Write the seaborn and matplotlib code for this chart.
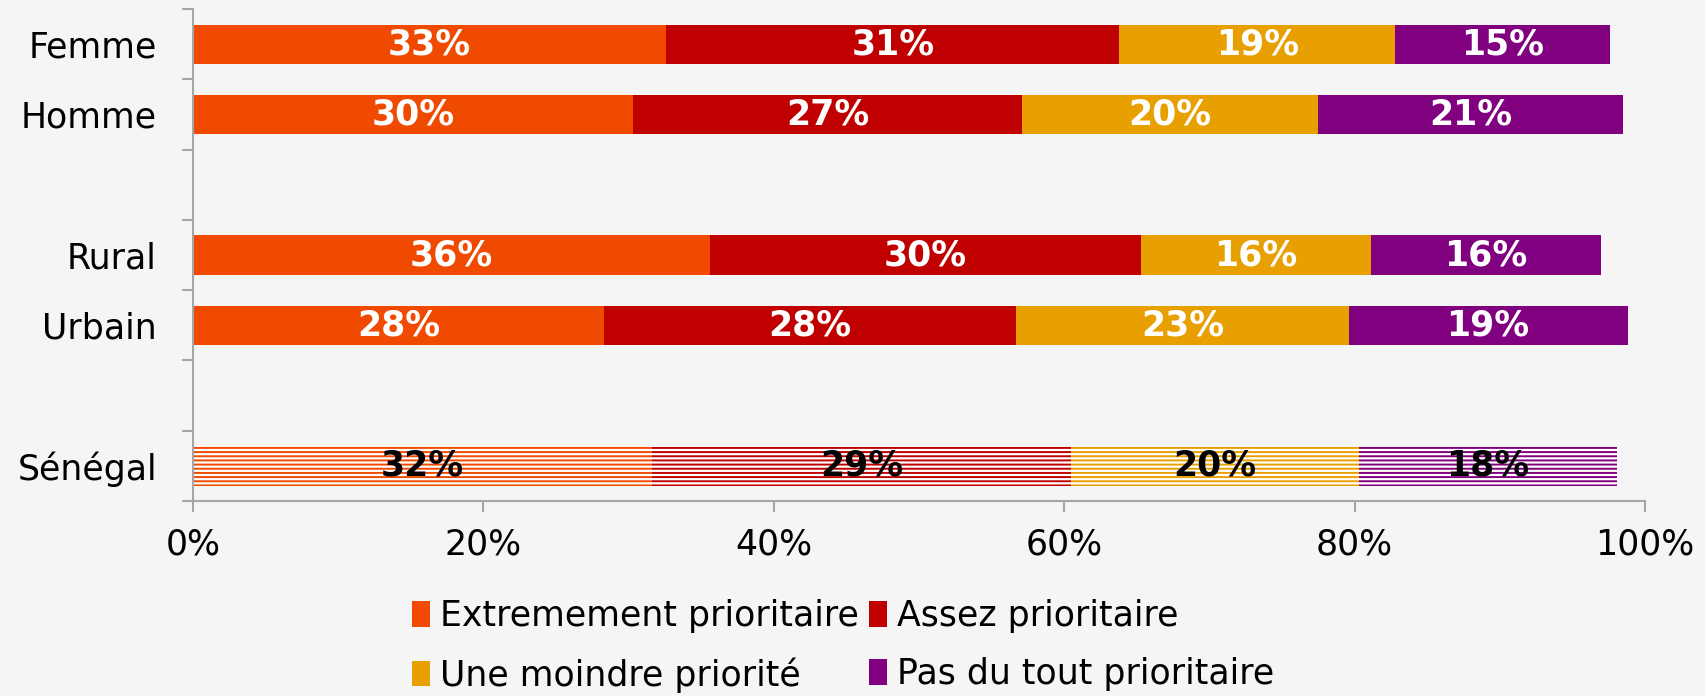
import matplotlib
matplotlib.use("Agg")
import matplotlib.pyplot as plt
from matplotlib.patches import Patch
import seaborn as sns
import pandas as pd
import numpy as np

# ---- data ----
categories = ["Femme", "Homme", "Rural", "Urbain", "Sénégal"]
slot_order = ["Femme", "Homme", " ", "Rural", "Urbain", "  ", "Sénégal"]
series_names = ["Extremement prioritaire", "Assez prioritaire",
                "Une moindre priorité", "Pas du tout prioritaire"]
extremement = [32.6, 30.3, 35.6, 28.3, 31.6]
assez = [31.2, 26.8, 29.7, 28.4, 28.9]
moindre = [19.0, 20.4, 15.8, 22.9, 19.8]
pas_du_tout = [14.8, 21.0, 15.9, 19.2, 17.8]
x_ticks = [0, 20, 40, 60, 80, 100]
hatched_category = "Sénégal"

colors = ["#F04A00", "#C00000", "#E8A000", "#800080"]
bg = "#F5F5F5"
spine_col = "#A6A6A6"

sns.set_theme(style="white")
plt.rcParams['font.family'] = ['DejaVu Sans']
plt.rcParams['hatch.linewidth'] = 1.4
plt.rcParams['text.color'] = 'black'

series = [extremement, assez, moindre, pas_du_tout]
df = pd.DataFrame({"cat": categories})
cum = np.cumsum(np.array(series), axis=0)
for k in range(4):
    df[f"cum{k}"] = cum[k]

fig = plt.figure(figsize=(17.05, 6.96), dpi=100, facecolor=bg)
ax = fig.add_axes([0.1132, 0.2802, 0.9648 - 0.1132, 0.987 - 0.2802])
ax.set_facecolor(bg)

pos_of = {c: i for i, c in enumerate(slot_order)}
for k in range(3, -1, -1):
    before = len(ax.patches)
    sns.barplot(data=df, y="cat", x=f"cum{k}", order=slot_order, orient="h",
                color=colors[k], saturation=1, width=0.56, errorbar=None,
                linewidth=0, edgecolor=colors[k], ax=ax)
    for p in ax.patches[before:]:
        yc = p.get_y() + p.get_height() / 2
        if abs(yc - pos_of[hatched_category]) < 0.3:
            p.set_facecolor("white")
            p.set_edgecolor(colors[k])
            p.set_hatch("----")
            p.set_linewidth(0)

# value labels
for i, c in enumerate(categories):
    y = pos_of[c]
    left = 0
    for k in range(4):
        v = series[k][i]
        col = "black" if c == hatched_category else "white"
        ax.text(left + v / 2, y, f"{v:.0f}%", ha="center", va="center",
                color=col, fontsize=25, fontweight="bold")
        left += v

ax.set_xlim(0, 100)
ax.set_ylim(6.5, -0.5)
ax.set_xlabel("")
ax.set_ylabel("")
ax.set_xticks(x_ticks)
ax.set_xticklabels([f"{t}%" for t in x_ticks], fontsize=25, color="black")
ax.set_yticks(range(len(slot_order)))
ax.set_yticklabels(slot_order, fontsize=25, color="black")
ax.set_yticks(np.arange(-0.5, len(slot_order), 1), minor=True)
ax.tick_params(axis="y", which="major", length=0, pad=26)
ax.tick_params(axis="y", which="minor", length=8, width=1.5, color=spine_col,
               direction="out", left=True)
ax.tick_params(axis="x", which="major", length=8, width=1.5, color=spine_col,
               direction="out", bottom=True, pad=11)
for s in ["top", "right"]:
    ax.spines[s].set_visible(False)
for s in ["left", "bottom"]:
    ax.spines[s].set_color(spine_col)
    ax.spines[s].set_linewidth(1.5)

handles = [Patch(facecolor=colors[k], edgecolor="none", label=series_names[k])
           for k in [0, 2, 1, 3]]
leg = fig.legend(handles=handles, loc="center", bbox_to_anchor=(0.4947, 0.072),
                 ncol=2, frameon=False, fontsize=25, handlelength=0.5,
                 handleheight=0.75, handletextpad=0.3, columnspacing=0.3,
                 labelspacing=0.7)
for t in leg.get_texts():
    t.set_color("black")

fig.savefig("out.png", dpi=100, facecolor=bg)
